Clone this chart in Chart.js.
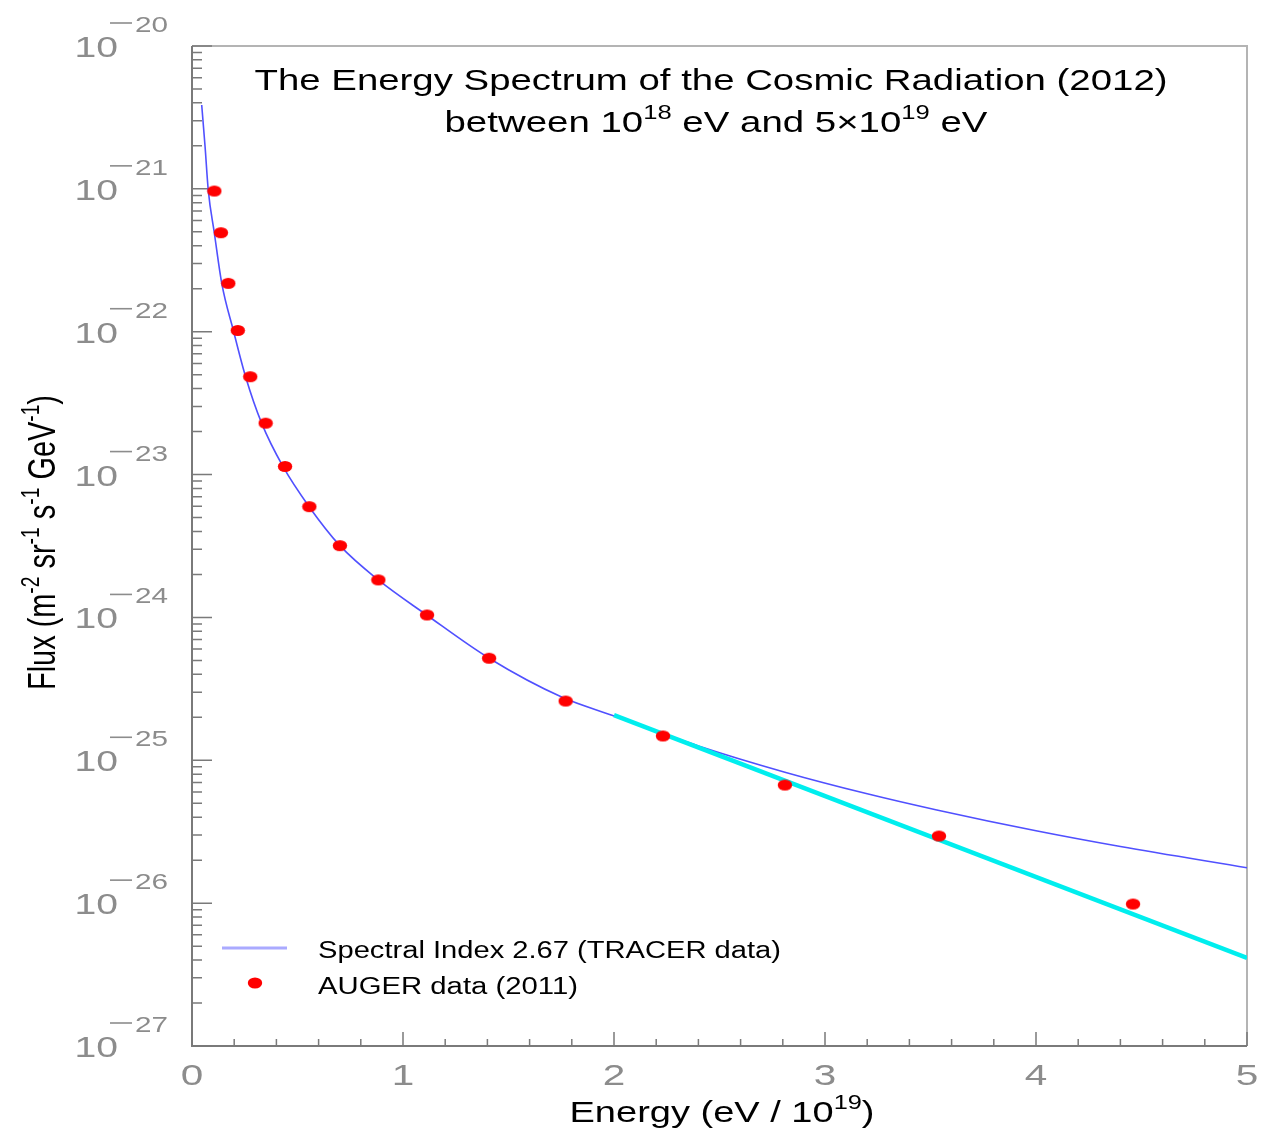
<!doctype html>
<html>
<head>
<meta charset="utf-8">
<script src="https://cdn.jsdelivr.net/npm/chart.js@4.4.1/dist/chart.umd.min.js"></script>
<style>
  html, body { margin: 0; padding: 0; background: #fff; }
  canvas { display: block; }
</style>
<script>
// Spectral index 2.67 curve (TRACER)
const tracerEnergy = [0.046, 0.062, 0.077, 0.106, 0.141, 0.196, 0.254, 0.330, 0.431, 0.555, 0.701, 0.883, 1.112, 1.408, 1.757, 1.99, 2.40, 2.81, 3.20, 3.53, 4.00, 4.40, 5.0];
const tracerFlux = [3.86e-21, 1.97e-21, 9.8e-22, 4.89e-22, 2.18e-22, 1.02e-22, 4.84e-23, 2.29e-23, 1.14e-23, 5.96e-24, 3.18e-24, 1.83e-24, 1.04e-24, 5.18e-25, 2.75e-25, 2.07e-25, 1.26e-25, 8.26e-26, 5.83e-26, 4.49e-26, 3.21e-26, 2.49e-26, 1.77e-26];

// straight fit through the upper AUGER points
const fitEnergy = [2.0, 5.0];
const fitFlux = [2.07e-25, 4.13e-27];

// AUGER data (2011)
const augerEnergy = [0.106, 0.137, 0.172, 0.217, 0.276, 0.349, 0.441, 0.556, 0.701, 0.883, 1.114, 1.408, 1.771, 2.232, 2.81, 3.54, 4.46];
const augerFlux = [9.66e-22, 4.93e-22, 2.18e-22, 1.02e-22, 4.84e-23, 2.29e-23, 1.14e-23, 5.96e-24, 3.18e-24, 1.83e-24, 1.04e-24, 5.18e-25, 2.60e-25, 1.48e-25, 6.71e-26, 2.95e-26, 9.86e-27];

const xTicks = [0, 1, 2, 3, 4, 5];
const yDecades = [-27, -26, -25, -24, -23, -22, -21, -20];

const titleLines = [
  [['The Energy Spectrum of the Cosmic Radiation (2012)', false]],
  [['between 10', false], ['18', true], [' eV and 5\u00d710', false], ['19', true], [' eV', false]]
];
const xTitle = [['Energy (eV / 10', false], ['19', true], [')', false]];
const yTitle = [['Flux (m', false], ['-2', true], [' sr', false], ['-1', true], [' s', false], ['-1', true], [' GeV', false], ['-1', true], [')', false]];
const legendLabels = ['Spectral Index 2.67 (TRACER data)', 'AUGER data (2011)'];

const FONT = '"Liberation Sans", Arial, sans-serif';
const TICK_GRAY = '#8c8c8c';
const STRETCH = 1.35;

function pts(xs, ys) {
  return xs.map((x, i) => ({ x: x, y: ys[i] }));
}

function ellipseDot() {
  const c = document.createElement('canvas');
  c.width = 16; c.height = 13;
  const g = c.getContext('2d');
  g.fillStyle = '#ff0000';
  g.beginPath();
  g.ellipse(8, 6.5, 7.2, 5.6, 0, 0, Math.PI * 2);
  g.fill();
  return c;
}

// draws text made of normal/superscript pieces
function drawRich(ctx, parts, o) {
  const size = o.size, supSize = o.supSize || size * 0.68;
  let total = 0;
  const widths = parts.map(p => {
    ctx.font = (p[1] ? supSize : size) + 'px ' + FONT;
    const w = ctx.measureText(p[0]).width;
    total += w;
    return w;
  });
  ctx.save();
  ctx.fillStyle = o.color || '#000';
  ctx.textBaseline = 'alphabetic';
  ctx.textAlign = 'left';
  ctx.translate(o.x, o.y);
  if (o.rotate) {
    const sy = o.length ? o.length / total : 1;
    ctx.scale(o.sx || 1, sy);
    ctx.rotate(o.rotate);
  } else {
    const sx = o.width ? o.width / total : (o.sx || 1);
    ctx.scale(sx, 1);
  }
  let cx = o.align === 'center' ? -total / 2 : (o.align === 'right' ? -total : 0);
  parts.forEach((p, i) => {
    ctx.font = (p[1] ? supSize : size) + 'px ' + FONT;
    ctx.fillText(p[0], cx, p[1] ? -size * 0.42 : 0);
    cx += widths[i];
  });
  ctx.restore();
}

const frame = {
  id: 'frame',
  beforeDatasetsDraw(chart) {
    const ctx = chart.ctx, a = chart.chartArea;
    const xs = chart.scales.x, ys = chart.scales.y;
    ctx.save();
    ctx.strokeStyle = '#b4b4b4';
    ctx.lineWidth = 2;
    ctx.beginPath();
    ctx.moveTo(a.left, a.top); ctx.lineTo(a.right, a.top); ctx.lineTo(a.right, a.bottom);
    ctx.stroke();
    ctx.strokeStyle = '#7a7a7a';
    ctx.beginPath();
    ctx.moveTo(a.left, a.top); ctx.lineTo(a.left, a.bottom); ctx.lineTo(a.right, a.bottom);
    ctx.stroke();

    ctx.lineWidth = 1.5;
    ctx.beginPath();
    // y ticks, inward
    yDecades.forEach(k => {
      const yp = ys.getPixelForValue(Math.pow(10, k));
      ctx.moveTo(a.left, yp); ctx.lineTo(a.left + 20, yp);
      if (k < -20) {
        for (let m = 2; m <= 9; m++) {
          const y2 = ys.getPixelForValue(m * Math.pow(10, k));
          ctx.moveTo(a.left, y2); ctx.lineTo(a.left + 10, y2);
        }
      }
    });
    // x ticks, inward
    xTicks.forEach(v => {
      const xp = xs.getPixelForValue(v);
      ctx.moveTo(xp, a.bottom); ctx.lineTo(xp, a.bottom - 14);
      if (v < 5) {
        for (let m = 1; m < 5; m++) {
          const x2 = xs.getPixelForValue(v + m * 0.2);
          ctx.moveTo(x2, a.bottom); ctx.lineTo(x2, a.bottom - 7);
        }
      }
    });
    ctx.stroke();

    // y tick labels 10^k
    yDecades.forEach(k => {
      const yp = ys.getPixelForValue(Math.pow(10, k));
      drawRich(ctx, [['10', false]], { x: 118, y: yp + 11, size: 29, color: TICK_GRAY, align: 'right', sx: STRETCH });
      ctx.strokeStyle = TICK_GRAY;
      ctx.lineWidth = 1.6;
      ctx.beginPath();
      ctx.moveTo(110, yp - 23); ctx.lineTo(132, yp - 23);
      ctx.stroke();
      drawRich(ctx, [[String(-k), false]], { x: 135, y: yp - 14, size: 22, color: TICK_GRAY, align: 'left', sx: STRETCH });
    });
    // x tick labels
    xTicks.forEach(v => {
      const xp = xs.getPixelForValue(v);
      drawRich(ctx, [[String(v), false]], { x: xp, y: 1085, size: 30, color: TICK_GRAY, align: 'center', sx: STRETCH });
    });
    ctx.restore();
  },
  afterDatasetsDraw(chart) {
    const ctx = chart.ctx;
    drawRich(ctx, titleLines[0], { x: 711, y: 90, size: 30, align: 'center', width: 913 });
    drawRich(ctx, titleLines[1], { x: 716, y: 132, size: 30, supSize: 20, align: 'center', width: 543 });
    drawRich(ctx, xTitle, { x: 722, y: 1122, size: 30, supSize: 20, align: 'center', width: 305 });
    drawRich(ctx, yTitle, { x: 55, y: 690, size: 30, supSize: 20, rotate: -Math.PI / 2, sx: 1.3, length: 295 });

    // legend
    ctx.save();
    ctx.strokeStyle = '#aaaaff';
    ctx.lineWidth = 3;
    ctx.beginPath();
    ctx.moveTo(222, 948); ctx.lineTo(287, 948);
    ctx.stroke();
    ctx.fillStyle = '#ff0000';
    ctx.beginPath();
    ctx.ellipse(255, 983, 7.2, 5.6, 0, 0, Math.PI * 2);
    ctx.fill();
    ctx.restore();
    drawRich(ctx, [[legendLabels[0], false]], { x: 318, y: 958, size: 23, align: 'left', width: 463 });
    drawRich(ctx, [[legendLabels[1], false]], { x: 318, y: 994, size: 23, align: 'left', width: 260 });
  }
};

function start() {
  const ctx = document.getElementById('spectrum').getContext('2d');
  new Chart(ctx, {
    type: 'scatter',
    data: {
      datasets: [
        {
          label: legendLabels[1],
          data: pts(augerEnergy, augerFlux),
          showLine: false,
          pointStyle: ellipseDot(),
          pointRadius: 7,
          order: 0
        },
        {
          label: 'fit',
          data: pts(fitEnergy, fitFlux),
          showLine: true,
          borderColor: '#00eeee',
          borderWidth: 4.5,
          pointRadius: 0,
          order: 1
        },
        {
          label: legendLabels[0],
          data: pts(tracerEnergy, tracerFlux),
          showLine: true,
          borderColor: '#5050ff',
          borderWidth: 1.6,
          cubicInterpolationMode: 'monotone',
          pointRadius: 0,
          order: 2
        }
      ]
    },
    options: {
      responsive: false,
      animation: false,
      layout: { padding: { left: 192, right: 14, top: 46, bottom: 84 } },
      plugins: { legend: { display: false }, title: { display: false }, tooltip: { enabled: false } },
      scales: {
        x: { type: 'linear', min: 0, max: 5, display: false },
        y: { type: 'logarithmic', min: 1e-27, max: 1e-20, display: false }
      }
    },
    plugins: [frame]
  });
}
</script>
</head>
<body onload="start()">
<canvas id="spectrum" width="1261" height="1130"></canvas>
</body>
</html>
